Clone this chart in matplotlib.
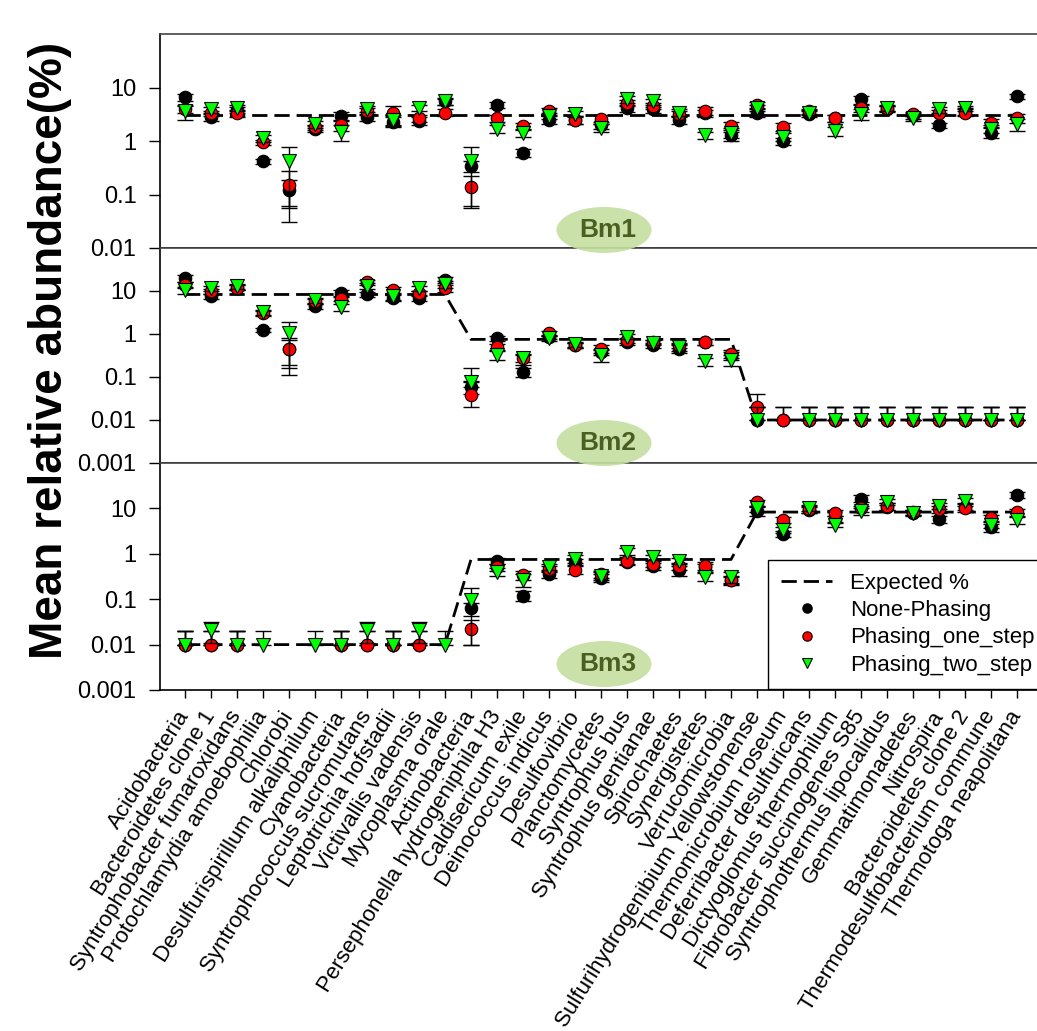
import numpy as np
import matplotlib.pyplot as plt
from matplotlib.patches import Ellipse
from matplotlib.ticker import NullLocator

plt.rcParams['font.family'] = ['Liberation Sans', 'DejaVu Sans']

nan = np.nan

taxa = [
    'Acidobacteria', 'Bacteroidetes clone 1', 'Syntrophobacter fumaroxidans',
    'Protochlamydia amoebophilia', 'Chlorobi', 'Desulfurispirillum alkaliphilum',
    'Cyanobacteria', 'Syntrophococcus sucromutans', 'Leptotrichia hofstadii',
    'Victivallis vadensis', 'Mycoplasma orale', 'Actinobacteria',
    'Persephonella hydrogeniphila H3', 'Caldisericum exile', 'Deinococcus indicus',
    'Desulfovibrio', 'Planctomycetes', 'Syntrophus bus', 'Syntrophus gentianae',
    'Spirochaetes', 'Synergistetes', 'Verrucomicrobia',
    'Sulfurihydrogenibium Yellowstonense', 'Thermomicrobium roseum',
    'Deferribacter desulfuricans', 'Dictyoglomus thermophilum',
    'Fibrobacter succinogenes S85', 'Syntrophothermus lipocalidus',
    'Gemmatimonadetes', 'Nitrospira', 'Bacteroidetes clone 2',
    'Thermodesulfobacterium commune', 'Thermotoga neapolitana',
]

# Bm1: even mock community
bm1_expected = [3.03, 3.03, 3.03, 3.03, 3.03, 3.03, 3.03, 3.03, 3.03, 3.03, 3.03,
                3.03, 3.03, 3.03, 3.03, 3.03, 3.03, 3.03, 3.03, 3.03, 3.03, 3.03,
                3.03, 3.03, 3.03, 3.03, 3.03, 3.03, 3.03, 3.03, 3.03, 3.03, 3.03]
bm1_none = [6.7, 2.8, 3.8, 0.42, 0.12, 1.7, 2.95, 2.8, 2.3, 2.4, 5.6,
            0.34, 4.7, 0.6, 2.5, 2.5, 2.0, 4.1, 3.9, 2.5, 3.3, 1.3,
            3.4, 1.0, 3.2, 2.7, 6.0, 4.0, 3.0, 1.97, 3.6, 1.43, 6.8]
bm1_none_err = [1.0, 0.4, 0.5, 0.05, 0.065, 0.2, 0.5, 0.4, 0.5, 0.4, 0.8,
                0.08, 0.6, 0.1, 0.4, 0.4, 0.3, 0.6, 0.5, 0.4, 0.5, 0.3,
                0.6, 0.15, 0.4, 0.4, 1.0, 0.5, 0.4, 0.2, 0.5, 0.3, 0.8]
bm1_one = [3.9, 3.3, 3.3, 0.96, 0.15, 1.8, 1.97, 3.6, 3.3, 2.66, 3.4,
           0.14, 2.66, 1.9, 3.6, 2.5, 2.55, 5.2, 4.5, 3.2, 3.7, 1.9,
           4.7, 1.86, 3.6, 2.66, 4.1, 4.1, 3.2, 3.4, 3.4, 2.2, 2.66]
bm1_one_err = [0.6, 0.4, 0.5, 0.1, 0.12, 0.2, 0.4, 0.5, 1.3, 0.4, 0.5,
               0.085, 0.4, 0.3, 0.5, 0.4, 0.5, 0.7, 0.6, 0.4, 0.6, 0.4,
               0.6, 0.3, 0.4, 0.4, 0.6, 0.5, 0.3, 0.4, 0.5, 0.4, 0.5]
bm1_two = [3.6, 3.9, 4.2, 1.12, 0.42, 2.05, 1.5, 4.0, 2.5, 4.2, 5.5,
           0.42, 1.7, 1.43, 2.95, 3.25, 1.78, 6.0, 5.5, 3.4, 1.3, 1.43,
           4.2, 1.19, 3.4, 1.54, 3.25, 4.2, 2.66, 3.9, 4.1, 1.7, 2.05]
bm1_two_err = [1.1, 0.5, 0.5, 0.15, 0.36, 0.3, 0.5, 0.5, 0.6, 0.6, 0.7,
               0.36, 0.3, 0.25, 0.4, 0.4, 0.3, 0.8, 0.7, 0.5, 0.2, 0.3,
               0.6, 0.2, 0.4, 0.3, 0.8, 0.5, 0.3, 0.5, 0.5, 0.3, 0.5]

# Bm2: staggered, high -> medium -> low
bm2_expected = [8.3, 8.3, 8.3, 8.3, 8.3, 8.3, 8.3, 8.3, 8.3, 8.3, 8.3,
                0.75, 0.75, 0.75, 0.75, 0.75, 0.75, 0.75, 0.75, 0.75, 0.75, 0.75,
                0.01, 0.01, 0.01, 0.01, 0.01, 0.01, 0.01, 0.01, 0.01, 0.01, 0.01]
bm2_none = [20, 7.5, 12, 1.24, 0.45, 4.4, 9.0, 8.5, 6.9, 6.9, 18.4,
            0.06, 0.79, 0.13, 0.85, 0.55, 0.38, 0.66, 0.55, 0.46, 0.66, 0.32,
            0.01, 0.01, 0.01, 0.01, 0.01, 0.01, 0.01, 0.01, 0.01, 0.01, 0.01]
bm2_none_err = [4, 1.0, 1.5, 0.15, 0.34, 0.6, 1.5, 1.2, 1.0, 1.0, 3.0,
                0.02, 0.1, 0.03, 0.1, 0.08, 0.06, 0.1, 0.08, 0.1, 0.1, 0.07,
                0.01, 0.01, 0.01, 0.01, 0.01, 0.01, 0.01, 0.01, 0.01, 0.01, 0.01]
bm2_one = [14, 9.8, 12, 3.0, 0.45, 5.7, 6.6, 16, 10.7, 9.0, 11.7,
           0.039, 0.5, 0.27, 1.04, 0.55, 0.46, 0.72, 0.66, 0.55, 0.66, 0.35,
           0.02, 0.01, 0.01, 0.01, 0.01, 0.01, 0.01, 0.01, 0.01, 0.01, 0.01]
bm2_one_err = [2, 1.2, 1.5, 0.4, 0.29, 0.7, 0.8, 2, 1.5, 1.2, 2,
               0.019, 0.08, 0.05, 0.12, 0.08, 0.1, 0.1, 0.08, 0.08, 0.1, 0.07,
               0.02, 0.01, 0.01, 0.01, 0.01, 0.01, 0.01, 0.01, 0.01, 0.01, 0.01]
bm2_two = [10.7, 11.7, 12.8, 3.2, 1.04, 6.2, 4.2, 13, 7.5, 11.7, 14.5,
           0.076, 0.33, 0.27, 0.79, 0.57, 0.32, 0.87, 0.63, 0.5, 0.23, 0.25,
           0.01, nan, 0.01, 0.01, 0.01, 0.01, 0.01, 0.01, 0.01, 0.01, 0.01]
bm2_two_err = [2, 1.5, 1.5, 0.5, 0.85, 0.8, 0.8, 2, 1.2, 1.5, 2.5,
               0.09, 0.08, 0.08, 0.1, 0.08, 0.1, 0.12, 0.08, 0.1, 0.05, 0.07,
               0.01, nan, 0.01, 0.01, 0.01, 0.01, 0.01, 0.01, 0.01, 0.01, 0.01]

# Bm3: staggered, low -> medium -> high
bm3_expected = [0.01, 0.01, 0.01, 0.01, 0.01, 0.01, 0.01, 0.01, 0.01, 0.01, 0.01,
                0.75, 0.75, 0.75, 0.75, 0.75, 0.75, 0.75, 0.75, 0.75, 0.75, 0.75,
                8.3, 8.3, 8.3, 8.3, 8.3, 8.3, 8.3, 8.3, 8.3, 8.3, 8.3]
bm3_none = [0.01, 0.01, 0.01, nan, nan, nan, 0.01, 0.01, 0.01, 0.01, nan,
            0.063, 0.71, 0.12, 0.36, 0.66, 0.3, 0.66, 0.54, 0.43, 0.5, 0.26,
            8.9, 2.7, 9.4, 5.7, 16.5, 11, 8, 5.8, 11, 3.8, 19.6]
bm3_none_err = [0.01, 0.01, 0.01, nan, nan, nan, 0.01, 0.01, 0.01, 0.01, nan,
                0.02, 0.1, 0.03, 0.06, 0.1, 0.06, 0.1, 0.1, 0.1, 0.1, 0.05,
                2, 0.4, 1.5, 1, 3, 2, 1, 1, 2, 0.8, 3]
bm3_one = [0.01, 0.01, 0.01, nan, nan, nan, 0.01, 0.01, 0.01, 0.01, nan,
           0.022, 0.51, 0.34, 0.47, 0.45, 0.36, 0.71, 0.6, 0.54, 0.55, 0.27,
           13.5, 5.6, 9.6, 7.9, 10, 11.4, 8.2, 9.6, 10, 6.3, 8.4]
bm3_one_err = [0.01, 0.01, 0.01, nan, nan, nan, 0.01, 0.01, 0.01, 0.01, nan,
               0.012, 0.1, 0.08, 0.08, 0.1, 0.06, 0.12, 0.1, 0.1, 0.1, 0.05,
               2, 0.8, 1.5, 1.2, 1.5, 2, 1, 1.5, 1.5, 1, 1.5]
bm3_two = [0.01, 0.021, 0.01, 0.01, nan, 0.01, 0.01, 0.021, 0.01, 0.021, 0.01,
           0.095, 0.4, 0.27, 0.51, 0.78, 0.33, 1.12, 0.84, 0.71, 0.31, 0.31,
           10, 3.4, 10.2, 4.4, 8.6, 14, 7.8, 11.4, 14.7, 4.3, 5.6]
bm3_two_err = [0.01, 0.01, 0.01, 0.01, nan, 0.01, 0.01, 0.01, 0.01, 0.01, 0.01,
               0.085, 0.08, 0.08, 0.08, 0.15, 0.06, 0.2, 0.12, 0.1, 0.06, 0.08,
               1.5, 0.5, 1.5, 0.6, 1.5, 2, 1, 1.5, 2, 0.6, 1]

panels = [
    ('Bm1', bm1_expected, [(bm1_none, bm1_none_err), (bm1_one, bm1_one_err), (bm1_two, bm1_two_err)]),
    ('Bm2', bm2_expected, [(bm2_none, bm2_none_err), (bm2_one, bm2_one_err), (bm2_two, bm2_two_err)]),
    ('Bm3', bm3_expected, [(bm3_none, bm3_none_err), (bm3_one, bm3_one_err), (bm3_two, bm3_two_err)]),
]

series_style = [
    dict(label='None-Phasing', marker='o', mfc='black', ms=9, z=3),
    dict(label='Phasing_one_step', marker='o', mfc='#ff0000', ms=9, z=4),
    dict(label='Phasing_two_step', marker='v', mfc='#00ff00', ms=10, z=5),
]

W, H = 1037, 1031
fig = plt.figure(figsize=(W / 100, H / 100), dpi=100)

# panel boxes in pixels (top, bottom); right edge runs slightly past the canvas
left_px, right_px = 160, 1045
boxes = [(34, 248), (248, 463), (463, 690)]
ylims = [(0.01, 100), (0.001, 100), (0.001, 100)]

x = np.arange(len(taxa))
axes = []
for i, ((name, expected, series), (top, bot), ylim) in enumerate(zip(panels, boxes, ylims)):
    ax = fig.add_axes([left_px / W, 1 - bot / H, (right_px - left_px) / W, (bot - top) / H])
    axes.append(ax)

    ax.plot(x, expected, color='black', lw=2, ls=(0, (5.5, 2.5)), zorder=2, label='Expected %')

    for (vals, errs), st in zip(series, series_style):
        v = np.array(vals, dtype=float)
        e = np.array(errs, dtype=float)
        lower = np.where(v - e > 0, e, 0)
        ax.errorbar(x, v, yerr=[lower, e], fmt='none', ecolor='black', elinewidth=1,
                    capsize=6, capthick=1, zorder=st['z'])
        ax.plot(x, v, ls='none', marker=st['marker'], ms=st['ms'], mfc=st['mfc'],
                mec='black', mew=0.8, zorder=st['z'], label=st['label'])

    ax.set_yscale('log')
    ax.set_ylim(*ylim)
    ax.set_xlim(-25 / 26, 32 + 28 / 26)
    ticks = [t for t in [0.001, 0.01, 0.1, 1, 10] if t >= ylim[0]]
    ax.set_yticks(ticks)
    ax.set_yticklabels([f'{t:g}' for t in ticks])
    ax.yaxis.set_minor_locator(NullLocator())
    ax.tick_params(axis='y', direction='out', length=8, width=1, labelsize=17, pad=9)
    ax.set_xticks(x)
    ax.tick_params(axis='x', direction='out', length=6, width=1)
    for sp in ax.spines.values():
        sp.set_linewidth(1.2)
    ax.spines['top'].set_color('#444444')

    if i < 2:
        ax.tick_params(axis='x', labelbottom=False)
    else:
        ax.set_xticklabels(taxa, rotation=58, ha='right', va='center',
                           rotation_mode='anchor', fontsize=16)
        ax.tick_params(axis='x', pad=10)

    # community label badge
    cy = [230, 443, 664][i]
    fig.add_artist(Ellipse((604 / W, 1 - cy / H), 95 / W, 46 / H, transform=fig.transFigure,
                           facecolor='#c5dfa0', edgecolor='none', alpha=0.9, zorder=10))
    fig.text(608 / W, 1 - cy / H, name, ha='center', va='center', fontsize=19,
             fontweight='bold', color='#4a5e22', zorder=11)

leg = axes[2].legend(loc='lower left', bbox_to_anchor=(768 / W, 1 - 689 / H),
                     bbox_transform=fig.transFigure, fontsize=16, frameon=True,
                     fancybox=False, framealpha=1, edgecolor='black', borderaxespad=0,
                     handlelength=2.3, handletextpad=0.8, labelspacing=0.28,
                     borderpad=0.6, markerscale=0.75)
leg.get_frame().set_linewidth(1.0)
leg.set_zorder(20)

fig.text(50 / W, 1 - 350 / H, 'Mean relative abundance(%)', rotation=90, fontsize=33,
         fontweight='bold', ha='center', va='center')

fig.savefig('out.png', dpi=100)
